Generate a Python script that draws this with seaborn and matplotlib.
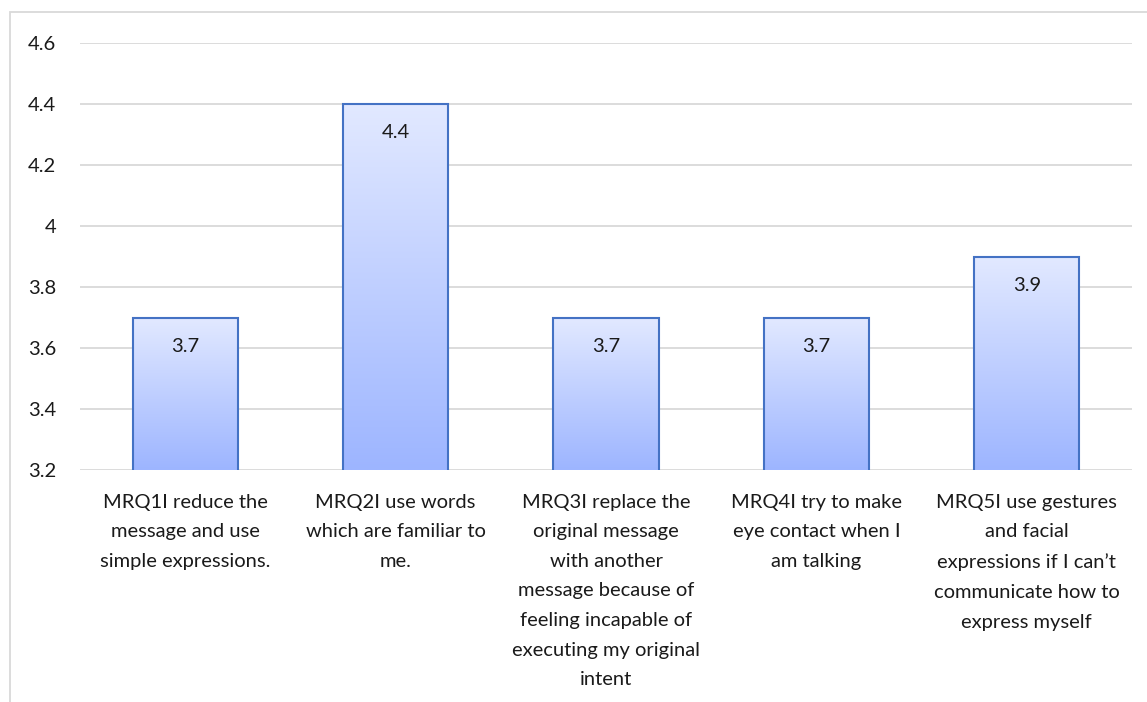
import numpy as np
import pandas as pd
import matplotlib
matplotlib.use("Agg")
import matplotlib.pyplot as plt
import matplotlib.patches as mpatches
from matplotlib.colors import LinearSegmentedColormap
import seaborn as sns

categories = [
    "MRQ1I reduce the\nmessage and use\nsimple expressions.",
    "MRQ2I use words\nwhich are familiar to\nme.",
    "MRQ3I replace the\noriginal message\nwith another\nmessage because of\nfeeling incapable of\nexecuting my original\nintent",
    "MRQ4I try to make\neye contact when I\nam talking",
    "MRQ5I use gestures\nand facial\nexpressions if I can\u2019t\ncommunicate how to\nexpress myself",
]
values = [3.7, 4.4, 3.7, 3.7, 3.9]
y_ticks = [3.2, 3.4, 3.6, 3.8, 4.0, 4.2, 4.4, 4.6]
y_tick_labels = ["3.2", "3.4", "3.6", "3.8", "4", "4.2", "4.4", "4.6"]
y_min, y_max = 3.2, 4.6

sns.set_theme(style="white")
plt.rcParams["font.family"] = ["Lato", "DejaVu Sans"]

W, H = 1147, 702
FS = 14.5
fig = plt.figure(figsize=(W / 100, H / 100), dpi=100)
ax = fig.add_axes([80 / W, 1 - 470 / H, (1132 - 80) / W, (470 - 43) / H])

df = pd.DataFrame({"item": categories, "mean": values})
sns.barplot(data=df, x="item", y="mean", ax=ax, width=0.5,
            color="#B8C8FF", edgecolor="#4472C4", linewidth=1.5, zorder=3)

ax.set_xlabel("")
ax.set_ylabel("")
ax.set_yticks(y_ticks)
ax.set_yticklabels(y_tick_labels, fontsize=FS, color="#1a1a1a")
ax.tick_params(axis="x", labelsize=FS, colors="#1a1a1a", length=0, pad=17)
ax.tick_params(axis="y", length=0, pad=17)
for lbl in ax.get_xticklabels():
    lbl.set_linespacing(1.9)
    lbl.set_verticalalignment("top")

ax.grid(axis="y", color="#D9D9D9", linewidth=1.3, zorder=0)
ax.set_axisbelow(True)
for s in ax.spines.values():
    s.set_visible(False)

# vertical gradient fill inside each bar, from the axis floor to the bar top
cmap = LinearSegmentedColormap.from_list("barfill", ["#9DB5FF", "#E2E9FF"])
grad = np.linspace(0, 1, 256).reshape(-1, 1)
for patch, v in zip(ax.patches, values):
    x0 = patch.get_x()
    w = patch.get_width()
    patch.set_facecolor("none")
    ax.imshow(grad, extent=[x0, x0 + w, y_min, v], origin="lower",
              cmap=cmap, aspect="auto", zorder=2.5)
    ax.annotate(f"{v:g}", xy=(x0 + w / 2, v), xytext=(0, -29),
                textcoords="offset pixels",
                ha="center", va="center", fontsize=FS, color="#1a1a1a", zorder=4)

ax.set_xlim(-0.5, len(values) - 0.5)
ax.set_ylim(y_min, y_max)

# outer chart frame
fig.patches.append(mpatches.Rectangle((10 / W, -0.05), 1.1, 1 - 12 / H + 0.05,
                                      transform=fig.transFigure, fill=False,
                                      edgecolor="#D9D9D9", linewidth=1.3))

fig.savefig("out.png", dpi=100, facecolor="white")
